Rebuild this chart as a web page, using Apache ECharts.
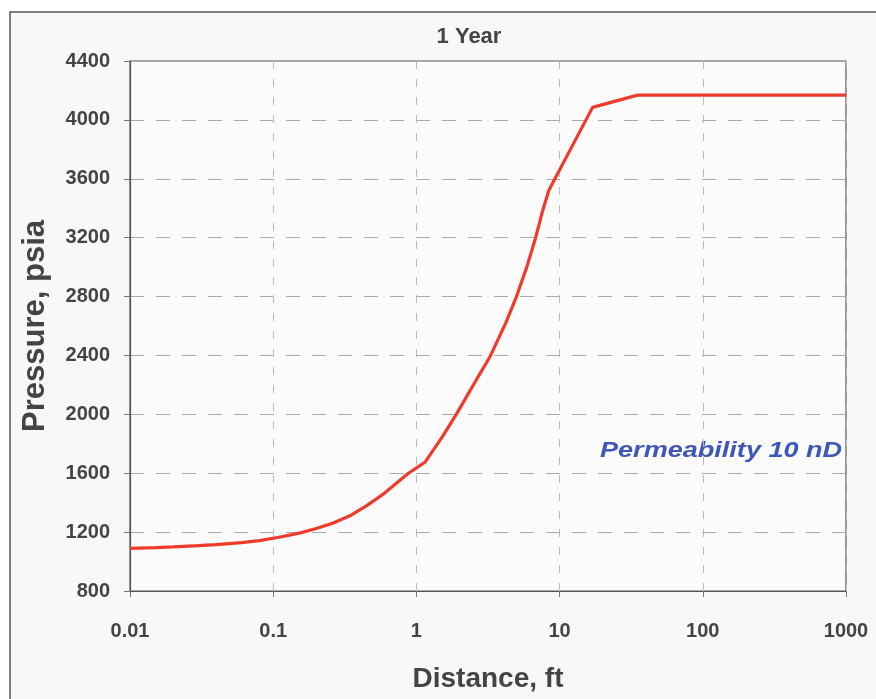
<!DOCTYPE html>
<html lang="en">
<head>
    <meta charset="UTF-8">
    <title>1 Year</title>
    <style>
        * { margin: 0; padding: 0; }
        body { background: #fff; }
    </style>
    <script src="https://cdn.jsdelivr.net/npm/echarts@6/dist/echarts.min.js"></script>
</head>
<body>
    <div id="echart" style="width: 876px; height: 699px;"></div>
    <script>
        // distance (ft) and pressure (psia)
        var distance = [0.01, 0.015, 0.02, 0.03, 0.04, 0.06, 0.08, 0.11, 0.155, 0.2, 0.26, 0.35, 0.45, 0.6, 0.88, 1.15,
            1.5, 1.9, 2.5, 3.3, 4.2, 5.0, 5.9, 6.8, 7.6, 8.4, 17, 35, 1000]
        var pressure = [1090, 1095, 1100, 1108, 1115, 1128, 1142, 1165, 1195, 1225, 1260, 1315, 1380, 1465, 1600, 1675,
            1840, 2000, 2200, 2400, 2620, 2800, 3000, 3200, 3380, 3520, 4085, 4168, 4168]
        var xTicks = [0.01, 0.1, 1, 10, 100, 1000]

        var points = distance.map((d, i) => [d, pressure[i]])
        var font = 'Liberation Sans, Arial, sans-serif'

        var echart = echarts.init(document.getElementById('echart'))
        var option = {
            backgroundColor: '#fff',
            animation: false,
            graphic: [{
                type: 'rect',
                z: -10,
                shape: { x: 10, y: 12, width: 900, height: 720 },
                style: { fill: '#f8f8f8', stroke: '#555', lineWidth: 1.5 }
            }, {
                // the scan's label is stretched sideways
                type: 'text',
                x: 600,
                y: 440,
                scaleX: 1.23,
                style: {
                    text: 'Permeability 10 nD',
                    fill: '#3f57b8',
                    font: 'italic bold 22px ' + font
                }
            }],
            title: {
                text: '1 Year',
                left: 464,
                top: 21,
                textAlign: 'center',
                textStyle: { color: '#444', fontSize: 22, fontWeight: 'bold', fontFamily: font }
            },
            grid: {
                left: 130,
                right: 30,
                top: 61,
                bottom: 108,
                show: true,
                backgroundColor: '#fbfbfb',
                borderColor: '#555',
                borderWidth: 1.2
            },
            xAxis: {
                type: 'log',
                logBase: 10,
                min: 0.01,
                max: 1000,
                name: 'Distance, ft',
                nameLocation: 'middle',
                nameGap: 74,
                nameTextStyle: { color: '#444', fontSize: 28, fontWeight: 'bold', fontFamily: font },
                axisLine: { lineStyle: { color: '#555', width: 1.2 } },
                axisTick: { show: true, length: 6, lineStyle: { color: '#777' } },
                minorTick: { show: false },
                axisLabel: {
                    margin: 30,
                    color: '#444',
                    fontSize: 20,
                    fontWeight: 'bold',
                    fontFamily: font,
                    formatter: v => {
                        var hit = xTicks.find(t => Math.abs(Math.log10(t) - Math.log10(v)) < 1e-6)
                        return hit === undefined ? '' : String(hit)
                    }
                },
                splitLine: { show: true, lineStyle: { color: '#bbb', type: [8, 10], width: 1 } }
            },
            yAxis: {
                type: 'value',
                min: 800,
                max: 4400,
                interval: 400,
                name: 'Pressure, psia',
                nameLocation: 'middle',
                nameGap: 79,
                nameTextStyle: { color: '#444', fontSize: 31, fontWeight: 'bold', fontFamily: font },
                axisLine: { show: true, lineStyle: { color: '#555', width: 1.2 } },
                axisTick: { show: true, length: 6, lineStyle: { color: '#777' } },
                axisLabel: {
                    margin: 20,
                    color: '#444',
                    fontSize: 20,
                    fontWeight: 'bold',
                    fontFamily: font,
                    formatter: v => String(v)
                },
                splitLine: { show: true, lineStyle: { color: '#aaa', type: [14, 12], width: 1 } }
            },
            series: [{
                type: 'line',
                data: points,
                showSymbol: false,
                lineStyle: { color: '#ee3b2b', width: 3.2 }
            }]
        }
        echart.setOption(option)
    </script>
</body>
</html>
